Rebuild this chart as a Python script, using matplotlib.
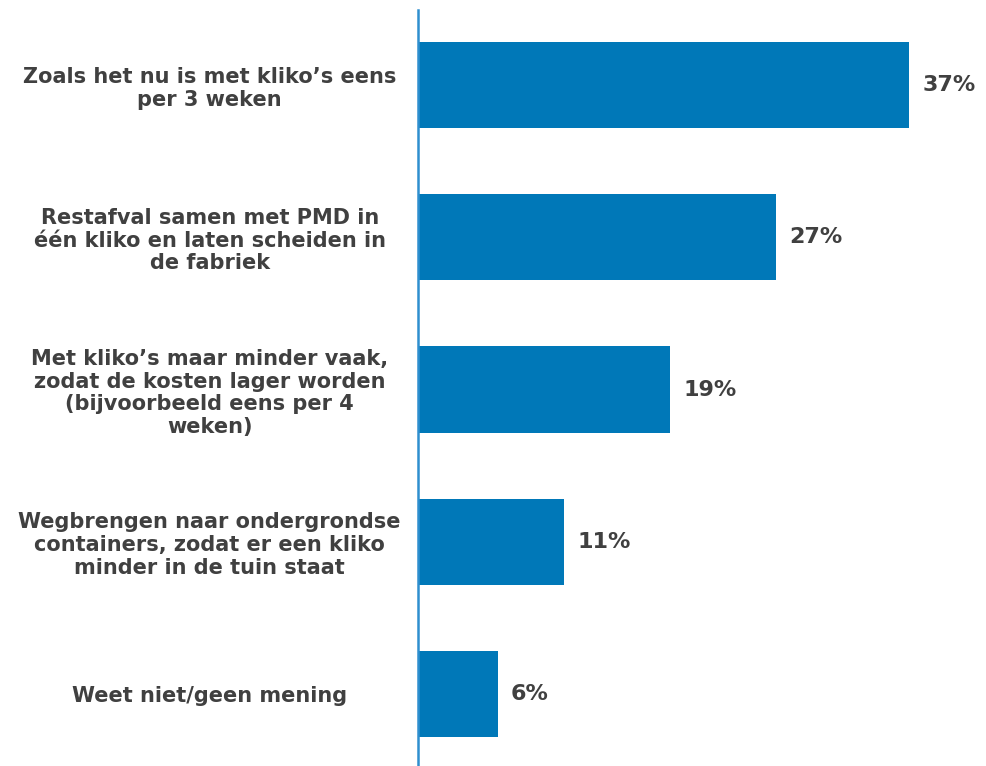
import matplotlib.pyplot as plt

categories = [
    "Zoals het nu is met kliko\u2019s eens\nper 3 weken",
    "Restafval samen met PMD in\n\u00e9\u00e9n kliko en laten scheiden in\nde fabriek",
    "Met kliko\u2019s maar minder vaak,\nzodat de kosten lager worden\n(bijvoorbeeld eens per 4\nweken)",
    "Wegbrengen naar ondergrondse\ncontainers, zodat er een kliko\nminder in de tuin staat",
    "Weet niet/geen mening",
]
values = [37, 27, 19, 11, 6]
value_labels = ["37%", "27%", "19%", "11%", "6%"]

bar_color = "#0078B8"
text_color = "#404040"

fig = plt.figure(figsize=(9.86, 7.66), dpi=100)
ax = fig.add_axes([0.424, 0.0, 0.576, 0.987])

y = list(range(len(categories)))
ax.barh(y, values, height=0.566, color=bar_color)

for yi, v, lab in zip(y, values, value_labels):
    ax.text(v + 1.0, yi, lab, va="center", ha="left", fontsize=16,
            fontweight="bold", color=text_color)

ax.set_yticks(y)
ax.set_yticklabels(categories, fontsize=15, fontweight="bold",
                   color=text_color, ha="center", linespacing=1.18)
ax.tick_params(axis="y", length=0, pad=150)
ax.set_xticks([])
ax.set_xlim(0, 42.8)
ax.set_ylim(4.47, -0.49)

for s in ["top", "right", "bottom"]:
    ax.spines[s].set_visible(False)
ax.spines["left"].set_color("#2E8FCF")
ax.spines["left"].set_linewidth(1.8)

fig.savefig("out.png", dpi=100)
